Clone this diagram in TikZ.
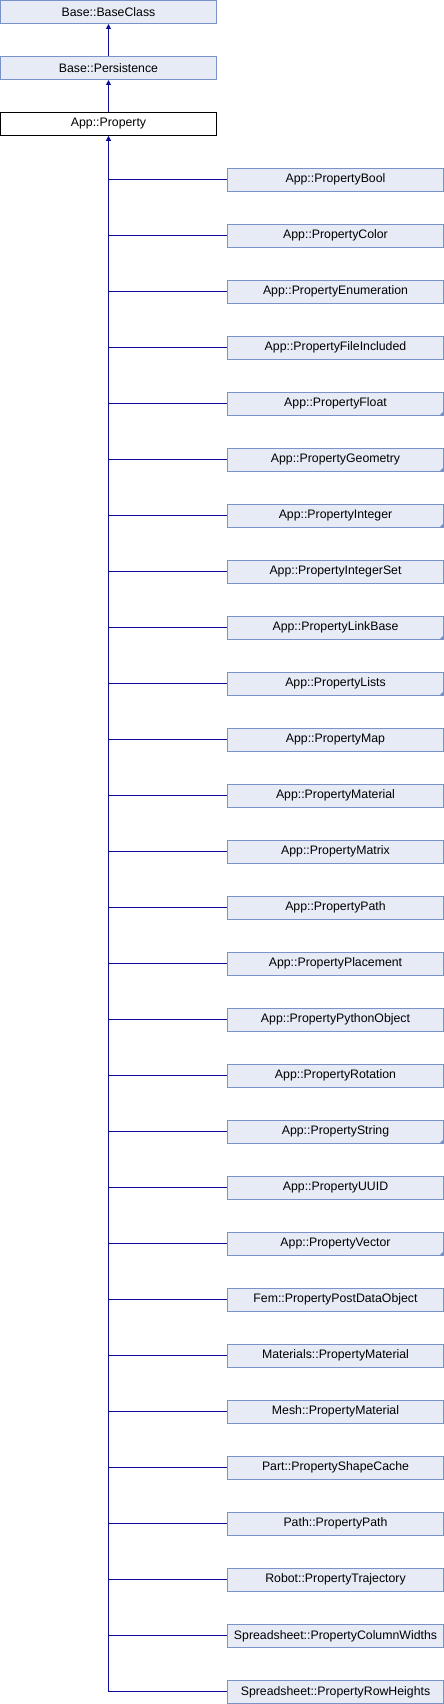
\documentclass[tikz,border=0pt]{standalone}
\usepackage{fontspec}
\setmainfont{Liberation Sans}
\usetikzlibrary{arrows.meta}
\definecolor{boxfill}{HTML}{E7EBF5}
\definecolor{boxdraw}{HTML}{7A92CA}
\definecolor{edgecol}{HTML}{0D0D99}
\tikzset{
  cls/.style={draw=boxdraw, fill=boxfill, line width=1pt, minimum width=216pt, minimum height=23pt, inner sep=0pt, font=\fontsize{12.3}{14}\selectfont},
  clsroot/.style={cls, draw=black, fill=white},
  edge/.style={draw=edgecol, line width=1pt},
  inh/.style={edge, -{Triangle[length=5pt,width=5pt]}},
}
\begin{document}
\begin{tikzpicture}[x=1pt,y=-1pt]
\useasboundingbox (0,0) rectangle (444,1704);
\node[cls] (base) at (108.5,12) {Base::BaseClass};
\node[cls] (pers) at (108.5,68) {Base::Persistence};
\node[clsroot] (prop) at (108.5,123.8) {App::Property};
\draw[inh] (pers.north) -- (base.south);
\draw[inh] (prop.north) -- (pers.south);
\foreach \n/\t/\f in {
  0/App::PropertyBool/0,
  1/App::PropertyColor/0,
  2/App::PropertyEnumeration/0,
  3/App::PropertyFileIncluded/0,
  4/App::PropertyFloat/1,
  5/App::PropertyGeometry/1,
  6/App::PropertyInteger/1,
  7/App::PropertyIntegerSet/0,
  8/App::PropertyLinkBase/1,
  9/App::PropertyLists/1,
  10/App::PropertyMap/0,
  11/App::PropertyMaterial/0,
  12/App::PropertyMatrix/0,
  13/App::PropertyPath/0,
  14/App::PropertyPlacement/0,
  15/App::PropertyPythonObject/0,
  16/App::PropertyRotation/0,
  17/App::PropertyString/1,
  18/App::PropertyUUID/0,
  19/App::PropertyVector/1,
  20/Fem::PropertyPostDataObject/0,
  21/Materials::PropertyMaterial/0,
  22/Mesh::PropertyMaterial/0,
  23/Part::PropertyShapeCache/0,
  24/Path::PropertyPath/0,
  25/Robot::PropertyTrajectory/0,
  26/Spreadsheet::PropertyColumnWidths/0,
  27/Spreadsheet::PropertyRowHeights/0}{
  \node[cls] (c\n) at (335.5,179.8+56*\n) {\t};
  \draw[edge] (prop.south |- c\n.west) -- (c\n.west);
  \ifnum\f=1
    \fill[boxdraw] (c\n.south east) -- ([xshift=-5pt]c\n.south east) -- ([yshift=5pt]c\n.south east) -- cycle;
  \fi
}
\coordinate (tend) at (prop.south |- c27.west);
\draw[inh] (tend) -- (prop.south);
\end{tikzpicture}
\end{document}
